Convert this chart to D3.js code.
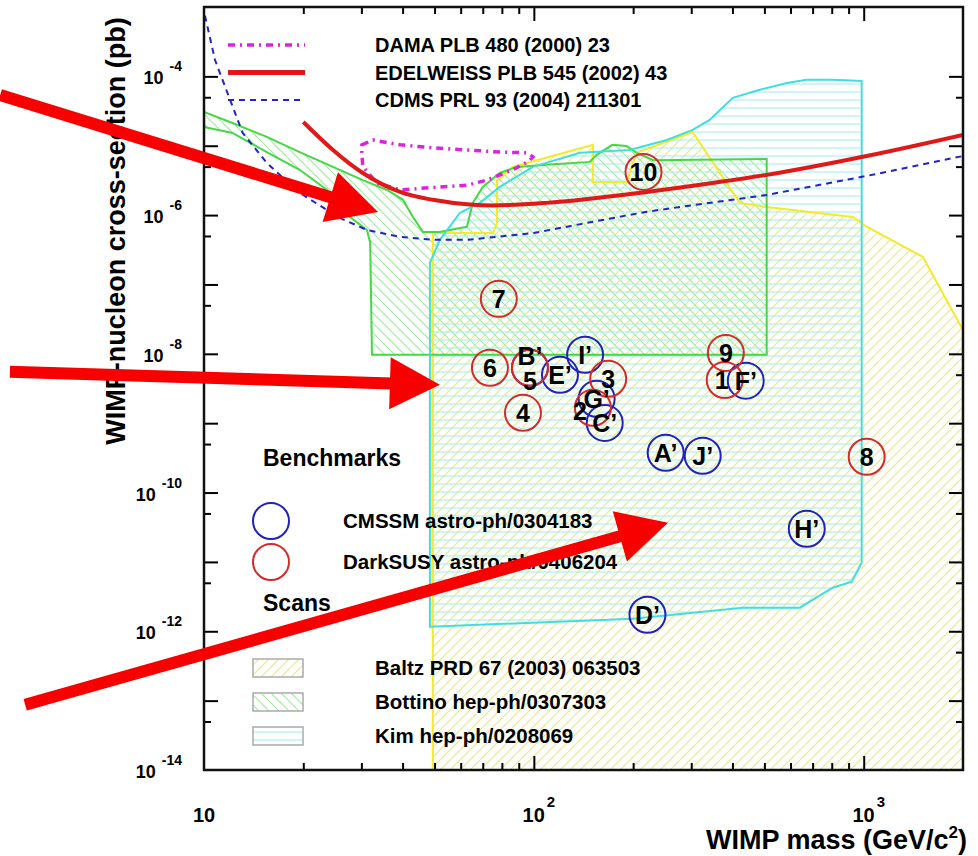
<!DOCTYPE html>
<html>
<head>
<meta charset="utf-8">
<script src="https://cdn.jsdelivr.net/npm/d3@7"></script>
<style>
body { margin: 0; background: #fff; }
svg { display: block; font-family: 'Liberation Sans', Arial, sans-serif; font-weight: bold; }
</style>
</head>
<body>
<svg id="chart" width="978" height="856"></svg>
<script>
'use strict';

const xLabelTicks = [10, 100, 1000];
const yLabelTicks = [1e-4, 1e-6, 1e-8, 1e-10, 1e-12, 1e-14];

const limitNames = ['DAMA PLB 480 (2000) 23', 'EDELWEISS PLB 545 (2002) 43', 'CDMS PRL 93 (2004) 211301'];
const benchmarkNames = ['CMSSM astro-ph/0304183', 'DarkSUSY astro-ph/0406204'];
const scanNames = ['Baltz PRD 67 (2003) 063503', 'Bottino hep-ph/0307303', 'Kim hep-ph/0208069'];

// [mass GeV, sigma pb]
const damaLoop = [[30.1, 1.03e-5], [32.5, 1.21e-5], [39.3, 1.03e-5], [49.4, 9.3e-6], [62.7, 8.7e-6],
  [78.8, 8.1e-6], [95.3, 7.9e-6], [99.3, 6.9e-6], [97.0, 6.2e-6], [94, 5.6e-6], [86.3, 4.5e-6],
  [78.8, 3.8e-6], [72.1, 3.2e-6], [62.7, 2.7e-6], [49.4, 2.5e-6], [39.3, 2.3e-6], [33.4, 2.9e-6],
  [30.3, 5.0e-6], [30.1, 7.9e-6]];

const edelweissCurve = [[20.0, 2.2e-5], [24.6, 8.7e-6], [30.3, 4.05e-6], [39.3, 2.16e-6], [49.4, 1.66e-6],
  [64, 1.42e-6], [75, 1.38e-6], [109, 1.5e-6], [220, 2.16e-6], [348, 2.9e-6], [508, 3.8e-6],
  [1021, 7.1e-6], [2000, 1.43e-5]];

const cdmsCurve = [[10.07, 7.5e-4], [10.8, 1.72e-4], [12.0, 4.57e-5], [13.1, 1.53e-5], [15.5, 5.65e-6],
  [19.5, 2.09e-6], [25.8, 9.1e-7], [31.2, 6.1e-7], [39.3, 4.85e-7], [49.4, 4.4e-7], [62.7, 4.4e-7],
  [99.3, 5.5e-7], [220, 1.12e-6], [508, 1.95e-6], [1021, 3.67e-6], [2000, 7.1e-6]];

const baltzRegion = [[49.4, 1e-14], [49.4, 5.5e-7], [75.2, 5.5e-7], [77.3, 7.7e-7], [77.3, 3.2e-6],
  [86.3, 4.95e-6], [151, 1.03e-5], [151, 3.0e-6], [191, 3.0e-6], [205, 7.9e-6], [303, 1.58e-5],
  [421, 1.5e-6], [508, 1.31e-6], [927, 9.4e-7], [1021, 6.8e-7], [1510, 2.5e-7], [2000, 2.2e-8],
  [2000, 1e-14]];

const bottinoRegion = [[10.0, 3.07e-5], [12.2, 2.13e-5], [15.5, 1.34e-5], [19.5, 8.1e-6], [24.6, 4.95e-6],
  [30.3, 3.2e-6], [35.9, 2.3e-6], [40.1, 1.66e-6], [43.0, 9.4e-7], [46.1, 5.7e-7], [51.9, 5.7e-7],
  [62.7, 6.8e-7], [65.3, 1.5e-6], [70.0, 2.55e-6], [78.8, 4.05e-6], [88.8, 4.95e-6], [109, 5.3e-6],
  [148, 5.85e-6], [155, 7.4e-6], [173, 1.03e-5], [191, 9.9e-6], [205, 7.9e-6], [230, 6.2e-6],
  [508, 6.45e-6], [508, 9.7e-9], [32.3, 9.7e-9], [31.9, 3.97e-7], [31.2, 6.1e-7], [30.3, 6.8e-7],
  [27.7, 9.4e-7], [25.8, 1.5e-6], [23.6, 2.3e-6], [19.5, 4.5e-6], [15.5, 8.1e-6], [12.2, 1.53e-5],
  [10.0, 1.87e-5]];

const kimRegion = [[48.4, 1.16e-12], [48.4, 2.05e-7], [51.9, 4.4e-7], [59.7, 1.08e-6], [68.6, 1.5e-6],
  [78.8, 2.55e-6], [99.3, 4.95e-6], [138, 7.9e-6], [195, 8.7e-6], [253, 1.21e-5], [303, 1.69e-5],
  [341, 2.36e-5], [401, 4.9e-5], [484, 6.4e-5], [585, 8.0e-5], [672, 8.9e-5], [805, 8.9e-5],
  [986, 8.6e-5], [986, 9.7e-12], [920, 5.2e-12], [805, 4.25e-12], [640, 2.19e-12], [430, 2.19e-12],
  [200, 1.52e-12]];

const cmssmLabels = ['A’', 'B’', 'C’', 'D’', 'E’', 'F’', 'G’', 'H’', 'I’', 'J’'];
const cmssmMass = [251, 97.3, 164, 221, 120, 439, 155, 672, 143, 325];
const cmssmSigma = [3.74e-10, 6.3e-9, 1.01e-9, 1.73e-12, 4.98e-9, 4.1e-9, 2.25e-9, 3.0e-11, 9.7e-9, 3.39e-10];

const darksusyLabels = ['1', '2', '3', '4', '5', '6', '7', '8', '9', '10'];
const darksusyMass = [379, 151, 168, 92.7, 97.3, 73.6, 78.3, 1021, 382, 215];
const darksusySigma = [4.2e-9, 1.67e-9, 4.36e-9, 1.41e-9, 6.3e-9, 6.3e-9, 6.2e-8, 3.28e-10, 1.03e-8, 4.19e-6];

// annotation arrows: [tail, tip] in [mass, sigma]
const arrows = [
  [[2.41, 5.4e-5], [33.7, 1.11e-6]],
  [[2.58, 5.5e-9], [51.9, 3.57e-9]],
  [[2.87, 8.7e-14], [255, 3.67e-11]]
];

const labelNudge = { 'B’': [0, -12], '5': [0, 13], '2': [-13, 3], '1': [-3, 0] };

const plotLeft = 204, plotRight = 963, plotTop = 7, plotBottom = 770;

const svg = d3.select('#chart');
const x = d3.scaleLog().domain([10, 2000]).range([plotLeft, plotRight]);
const y = d3.scaleLog().domain([1e-14, 1e-3]).range([plotBottom, plotTop]);

const defs = svg.append('defs');
defs.append('clipPath').attr('id', 'plotClip')
  .append('rect').attr('x', plotLeft).attr('y', plotTop)
  .attr('width', plotRight - plotLeft).attr('height', plotBottom - plotTop);

function hatch(id, size, color, d) {
  const p = defs.append('pattern').attr('id', id)
    .attr('patternUnits', 'userSpaceOnUse').attr('width', size).attr('height', size);
  p.append('path').attr('d', d).attr('stroke', color).attr('stroke-width', 1.1).attr('fill', 'none');
}
hatch('hYellow', 10, '#eeea6e', 'M0,10 L10,0 M-5,5 L5,-5 M5,15 L15,5');
hatch('hGreen', 10, '#a4e6a4', 'M0,0 L10,10 M-5,5 L5,15 M5,-5 L15,5');
hatch('hCyan', 8, '#a8eeee', 'M0,4 L8,4');

const line = d3.line().x(d => x(d[0])).y(d => y(d[1]));
const closed = d3.line().x(d => x(d[0])).y(d => y(d[1])).curve(d3.curveLinearClosed);
const smooth = d3.line().x(d => x(d[0])).y(d => y(d[1])).curve(d3.curveMonotoneX);

const plot = svg.append('g').attr('clip-path', 'url(#plotClip)');

const regions = [
  { data: baltzRegion, fill: 'url(#hYellow)', stroke: '#f4ea2a' },
  { data: bottinoRegion, fill: 'url(#hGreen)', stroke: '#44d844' },
  { data: kimRegion, fill: 'url(#hCyan)', stroke: '#40dede' }
];
plot.selectAll('path.fill').data(regions).join('path').attr('class', 'fill')
  .attr('d', d => closed(d.data)).attr('fill', d => d.fill).attr('stroke', 'none');
plot.selectAll('path.edge').data(regions).join('path').attr('class', 'edge')
  .attr('d', d => closed(d.data)).attr('fill', 'none').attr('stroke', d => d.stroke).attr('stroke-width', 2);

plot.append('path').attr('d', closed(damaLoop)).attr('fill', 'none')
  .attr('stroke', '#dd22dd').attr('stroke-width', 3.5).attr('stroke-dasharray', '7,5,2,5');
plot.append('path').attr('d', smooth(edelweissCurve)).attr('fill', 'none')
  .attr('stroke', '#e01818').attr('stroke-width', 4);
plot.append('path').attr('d', line(cdmsCurve)).attr('fill', 'none')
  .attr('stroke', '#2323c8').attr('stroke-width', 2).attr('stroke-dasharray', '6,5');

// benchmark points
const points = [];
cmssmLabels.forEach((l, i) => points.push({ label: l, m: cmssmMass[i], s: cmssmSigma[i], c: '#2222b8' }));
darksusyLabels.forEach((l, i) => points.push({ label: l, m: darksusyMass[i], s: darksusySigma[i], c: '#d42a2a' }));

plot.selectAll('circle.bm').data(points).join('circle').attr('class', 'bm')
  .attr('cx', d => x(d.m)).attr('cy', d => y(d.s)).attr('r', 18)
  .attr('fill', 'none').attr('stroke', d => d.c).attr('stroke-width', 2);
plot.selectAll('text.bm').data(points).join('text').attr('class', 'bm')
  .attr('x', d => x(d.m) + (labelNudge[d.label] || [0, 0])[0])
  .attr('y', d => y(d.s) + (labelNudge[d.label] || [0, 0])[1] + 9)
  .attr('text-anchor', 'middle').attr('font-size', 25).attr('fill', '#000')
  .text(d => d.label);

// axes
const majorY = d3.range(-13, -3).map(k => Math.pow(10, k));
const minorY = d3.range(-14, -4).map(k => 5 * Math.pow(10, k));
const majorX = [100, 1000];
const minorX = x.ticks().filter(v => majorX.indexOf(v) < 0 && v > 10 && v < 2000);

function tickAxis(axis, pos, values, size) {
  svg.append('g').attr('transform', pos)
    .call(axis.tickValues(values).tickSize(size).tickFormat(''))
    .call(g => g.select('.domain').remove())
    .call(g => g.selectAll('line').attr('stroke', '#000').attr('stroke-width', 2));
}
tickAxis(d3.axisBottom(x), `translate(0,${plotBottom})`, majorX, -14);
tickAxis(d3.axisBottom(x), `translate(0,${plotBottom})`, minorX, -7);
tickAxis(d3.axisTop(x), `translate(0,${plotTop})`, majorX, -14);
tickAxis(d3.axisTop(x), `translate(0,${plotTop})`, minorX, -7);
tickAxis(d3.axisLeft(y), `translate(${plotLeft},0)`, majorY, -14);
tickAxis(d3.axisLeft(y), `translate(${plotLeft},0)`, minorY, -7);
tickAxis(d3.axisRight(y), `translate(${plotRight},0)`, majorY, -14);
tickAxis(d3.axisRight(y), `translate(${plotRight},0)`, minorY, -7);

svg.append('rect').attr('x', plotLeft).attr('y', plotTop)
  .attr('width', plotRight - plotLeft).attr('height', plotBottom - plotTop)
  .attr('fill', 'none').attr('stroke', '#111').attr('stroke-width', 2.5);

const xl = svg.append('g').selectAll('text').data(xLabelTicks).join('text')
  .attr('x', d => x(d) + (d > 10 ? 5 : 0)).attr('y', 822).attr('text-anchor', 'middle').attr('font-size', 20);
xl.append('tspan').text('10');
xl.filter(d => d > 10).append('tspan').attr('dx', 2).attr('dy', -15).attr('font-size', 15)
  .text(d => Math.round(Math.log10(d)));

const yl = svg.append('g').selectAll('text').data(yLabelTicks).join('text')
  .attr('x', 182).attr('y', d => y(d) + 8).attr('text-anchor', 'end').attr('font-size', 18);
yl.append('tspan').text('10');
yl.append('tspan').attr('dx', 6).attr('dy', -13).attr('font-size', 14)
  .text(d => Math.round(Math.log10(d)));

const xt = svg.append('text').attr('x', 967).attr('y', 849).attr('text-anchor', 'end').attr('font-size', 27);
xt.append('tspan').text('WIMP mass (GeV/c');
xt.append('tspan').attr('dy', -11).attr('font-size', 17).text('2');
xt.append('tspan').attr('dy', 11).text(')');

svg.append('text').attr('transform', 'translate(125,231) rotate(-90)')
  .attr('text-anchor', 'middle').attr('font-size', 27)
  .text('WIMP-nucleon cross-section (pb)');

// legends
const limitStyles = [
  { c: '#dd22dd', w: 3.5, dash: '7,5,2,5' },
  { c: '#e01818', w: 5, dash: null },
  { c: '#2323c8', w: 2, dash: '6,5' }
];
const lg = svg.append('g').selectAll('g').data(limitNames).join('g')
  .attr('transform', (d, i) => `translate(0,${45 + i * 27.5})`);
lg.append('line').attr('x1', 228).attr('x2', 305)
  .attr('stroke', (d, i) => limitStyles[i].c).attr('stroke-width', (d, i) => limitStyles[i].w)
  .attr('stroke-dasharray', (d, i) => limitStyles[i].dash);
lg.append('text').attr('x', 375).attr('y', 7).attr('font-size', 20).text(d => d);

svg.append('text').attr('x', 263).attr('y', 466).attr('font-size', 23).text('Benchmarks');
svg.append('text').attr('x', 263).attr('y', 611).attr('font-size', 23).text('Scans');

const bg = svg.append('g').selectAll('g').data(benchmarkNames).join('g')
  .attr('transform', (d, i) => `translate(0,${521 + i * 41})`);
bg.append('circle').attr('cx', 271).attr('r', 18).attr('fill', 'none').attr('stroke-width', 2)
  .attr('stroke', (d, i) => i === 0 ? '#2222b8' : '#d42a2a');
bg.append('text').attr('x', 343).attr('y', 7).attr('font-size', 20.5).text(d => d);

const sg = svg.append('g').selectAll('g').data(scanNames).join('g')
  .attr('transform', (d, i) => `translate(0,${668 + i * 34})`);
sg.append('rect').attr('x', 253).attr('y', -9).attr('width', 50).attr('height', 18)
  .attr('fill', (d, i) => regions[i].fill).attr('stroke', '#aaa').attr('stroke-width', 1.5);
sg.append('text').attr('x', 375).attr('y', 7).attr('font-size', 20.5).text(d => d);

// annotation arrows
const ag = svg.append('g');
arrows.forEach(a => {
  const x0 = x(a[0][0]), y0 = y(a[0][1]), x1 = x(a[1][0]), y1 = y(a[1][1]);
  const len = Math.hypot(x1 - x0, y1 - y0);
  const ux = (x1 - x0) / len, uy = (y1 - y0) / len;
  const hl = 50, hw = 26;
  const bx = x1 - ux * hl, by = y1 - uy * hl;
  ag.append('line').attr('x1', x0).attr('y1', y0).attr('x2', bx + ux * 2).attr('y2', by + uy * 2)
    .attr('stroke', '#f80000').attr('stroke-width', 12);
  ag.append('path')
    .attr('d', `M${x1},${y1}L${bx - uy * hw},${by + ux * hw}L${bx + uy * hw},${by - ux * hw}Z`)
    .attr('fill', '#f80000');
});
</script>
</body>
</html>
